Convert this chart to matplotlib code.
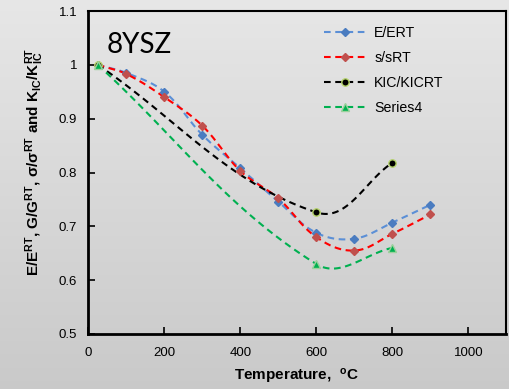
import numpy as np
import matplotlib
matplotlib.use("Agg")
import matplotlib.pyplot as plt
from matplotlib.lines import Line2D

plt.rcParams['font.family'] = ['Liberation Sans', 'DejaVu Sans']
plt.rcParams['mathtext.fontset'] = 'custom'
plt.rcParams['mathtext.rm'] = 'Liberation Sans:bold'
plt.rcParams['mathtext.bf'] = 'Liberation Sans:bold'
plt.rcParams['mathtext.default'] = 'rm'

# ---- data ----
temp_E = [25, 100, 200, 300, 400, 500, 600, 700, 800, 900]
E_ratio = [1.0, 0.985, 0.950, 0.870, 0.808, 0.746, 0.688, 0.677, 0.707, 0.740]
temp_s = [25, 100, 200, 300, 400, 500, 600, 700, 800, 900]
s_ratio = [1.0, 0.983, 0.940, 0.887, 0.803, 0.752, 0.680, 0.655, 0.686, 0.722]
temp_K = [25, 600, 800]
K_ratio = [1.0, 0.726, 0.818]
temp_4 = [25, 600, 800]
S4_ratio = [1.0, 0.630, 0.660]

x_ticks = [0, 200, 400, 600, 800, 1000]
y_ticks = [0.5, 0.6, 0.7, 0.8, 0.9, 1.0, 1.1]
y_ticklabels = ['0.5', '0.6', '0.7', '0.8', '0.9', '1', '1.1']

W, H = 510, 389
fig = plt.figure(figsize=(W / 100, H / 100), dpi=100)

# gradient background
bg = fig.add_axes([0, 0, 1, 1], zorder=-10)
grad = np.linspace(0, 1, 256).reshape(-1, 1)
top = np.array([0.905, 0.905, 0.905])
bot = np.array([0.79, 0.79, 0.79])
img = top[None, None, :] * (1 - grad[:, :, None]) + bot[None, None, :] * grad[:, :, None]
bg.imshow(img, aspect='auto', extent=[0, 1, 0, 1])
bg.axis('off')

L, R, B, T = 88.3, 506.3, 334.0, 11.0
ax = fig.add_axes([L / W, 1 - B / H, (R - L) / W, (B - T) / H])
ax.set_facecolor('none')
xmin, xmax, ymin, ymax = 0, 1100, 0.5, 1.1
ax.set_xlim(xmin, xmax)
ax.set_ylim(ymin, ymax)
sx = (R - L) / (xmax - xmin)
sy = (B - T) / (ymax - ymin)


def excel_smooth(xs, ys, k=0.36, n=60):
    P = np.column_stack([np.asarray(xs, float) * sx, np.asarray(ys, float) * sy])
    out = [P[0]]
    m = len(P)
    for i in range(m - 1):
        p0 = P[i - 1] if i > 0 else P[i]
        p1, p2 = P[i], P[i + 1]
        p3 = P[i + 2] if i + 2 < m else P[i + 1]
        d12 = np.linalg.norm(p2 - p1)
        t1 = p2 - p0
        t2 = p3 - p1
        t1 = t1 / np.linalg.norm(t1)
        t2 = t2 / np.linalg.norm(t2)
        c1 = p1 + t1 * d12 * k
        c2 = p2 - t2 * d12 * k
        t = np.linspace(0, 1, n)[1:, None]
        seg = ((1 - t) ** 3) * p1 + 3 * ((1 - t) ** 2) * t * c1 + 3 * (1 - t) * t ** 2 * c2 + t ** 3 * p2
        out.extend(seg)
    out = np.array(out)
    return out[:, 0] / sx, out[:, 1] / sy


series = [
    (temp_E, E_ratio, '#5b8fd6', 'D', '#4a7cc0', '#4a7cc0', 'E/ERT', 4.3),
    (temp_s, s_ratio, '#ff0000', 'D', '#c0504d', '#c0504d', 's/sRT', 4.3),
    (temp_K, K_ratio, '#000000', 'o', '#000000', '#b5d36a', 'KIC/KICRT', 5.3),
    (temp_4, S4_ratio, '#00b050', '^', '#00b050', '#9bd19b', 'Series4', 5.3),
]

handles = []
for xs, ys, lc, mk, mfc, mec, lab, ms in series:
    cx, cy = excel_smooth(xs, ys)
    ax.plot(cx, cy, color=lc, lw=1.5, dashes=(3.2, 2.2), zorder=2)
    ax.plot(xs, ys, ls='none', marker=mk, ms=ms, mfc=mfc, mec=mec, mew=1.0, zorder=3)
    handles.append(Line2D([], [], color=lc, lw=1.5, dashes=(3.2, 2.2), marker=mk, ms=ms,
                          mfc=mfc, mec=mec, mew=1.0, label=lab))

leg = ax.legend(handles=handles, loc='upper left', bbox_to_anchor=(0.55, 0.972),
                frameon=False, fontsize=10.2, handlelength=3.0, handletextpad=0.55,
                labelspacing=0.78, borderaxespad=0)

t8 = ax.text((107 - L) / (R - L), (B - 53) / (B - T), '8YSZ', fontsize=20,
             family=['Lato', 'Liberation Sans'],
             transform=ax.transAxes, va='baseline')

ax.set_xticks(x_ticks)
ax.set_yticks(y_ticks)
ax.set_yticklabels(y_ticklabels)
ax.tick_params(direction='in', length=5, width=1.2, labelsize=9.5, colors='black', pad=8)
ax.tick_params(axis='x', pad=9)
for side in ['left', 'bottom']:
    ax.spines[side].set_linewidth(2.0)
for side in ['top', 'right']:
    ax.spines[side].set_linewidth(1.5)
ax.tick_params(top=False, right=False)

ax.set_xlabel(r'Temperature,  $^{o}$C', fontsize=11, fontweight='bold')
ax.xaxis.set_label_coords((296 - L) / (R - L), -(376 - B) / (B - T))
ax.xaxis.label.set_va('center')
ax.set_ylabel(r'E/E$^{RT}$, G/G$^{RT}$, σ/σ$^{RT}$ and K$_{IC}$/K$_{IC}^{RT}$',
              fontsize=11, fontweight='bold')
ax.yaxis.set_label_coords(-(L - 35) / (R - L), (B - 162) / (B - T))
ax.yaxis.label.set_va('center')

fig.savefig('out.png', dpi=100)
